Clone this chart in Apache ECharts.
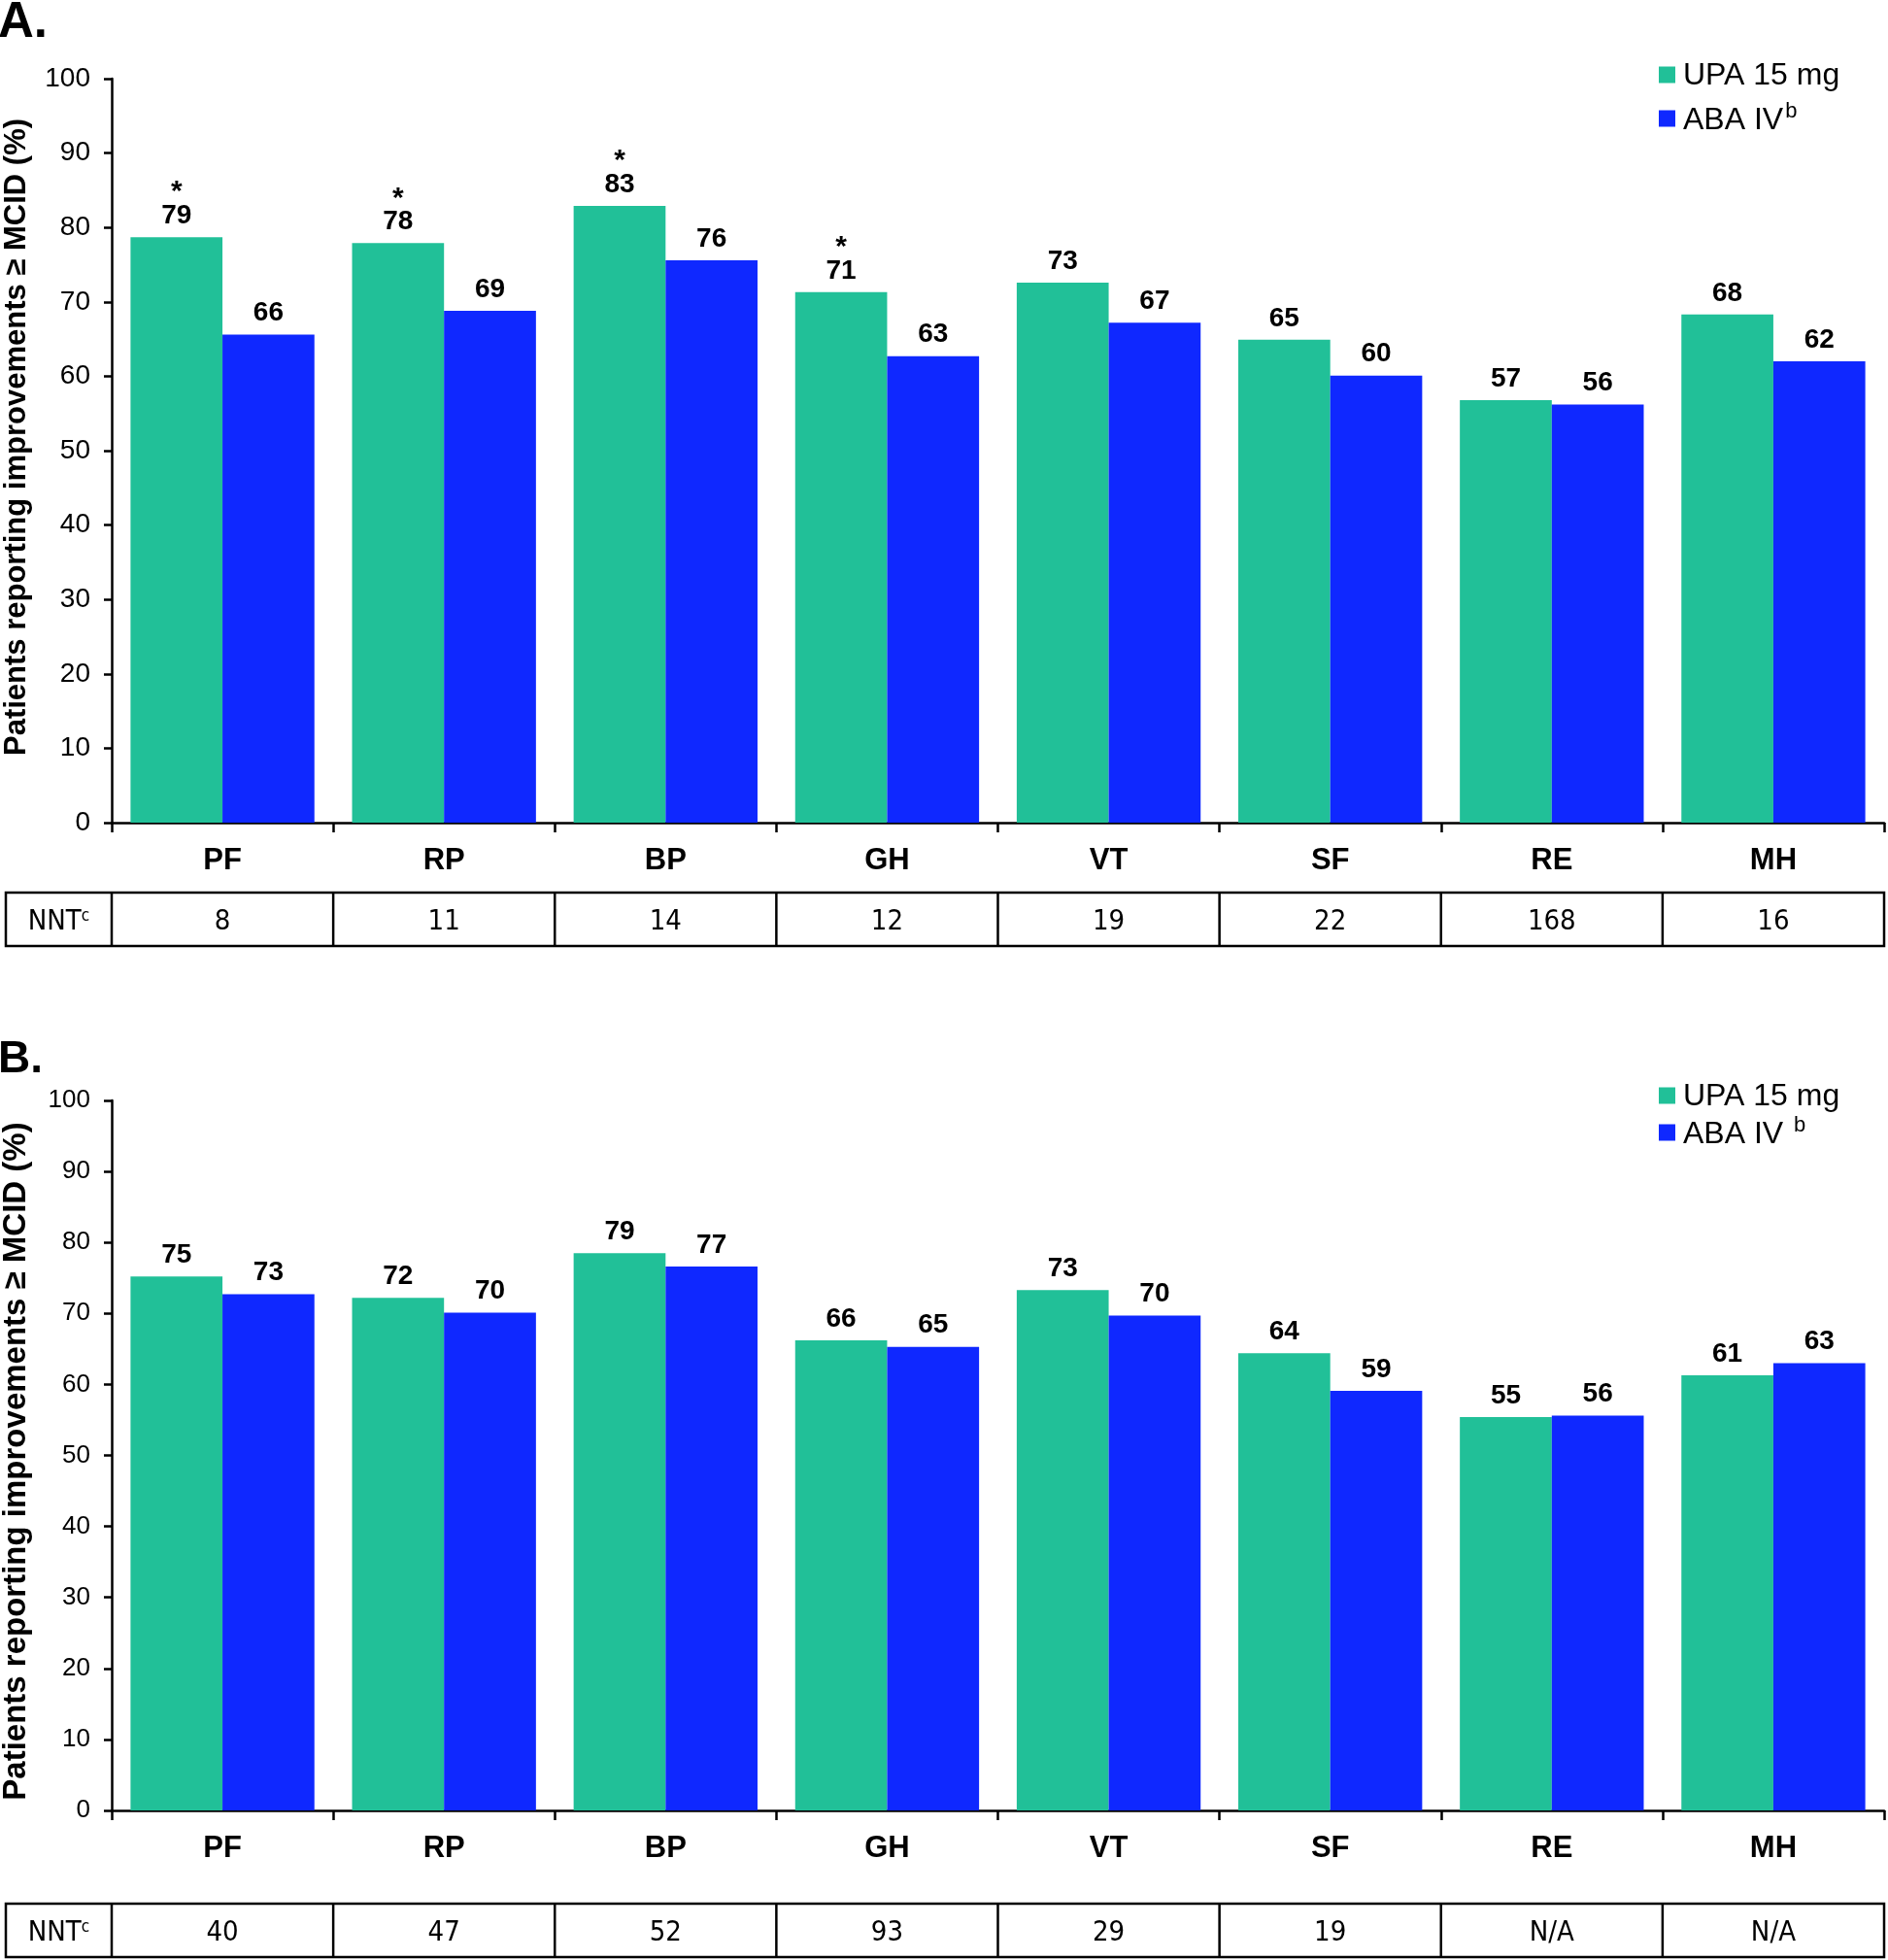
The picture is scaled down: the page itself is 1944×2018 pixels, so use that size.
<!DOCTYPE html>
<html>
<head>
<meta charset="utf-8">
<script src="https://cdn.jsdelivr.net/npm/echarts@6/dist/echarts.min.js"></script>
<style>
    html, body { margin: 0; padding: 0; background: #fff; }
    #main { width: 1944px; height: 2018px; }
</style>
</head>
<body>
<div id="main"></div>
<script>
    // SF-36 domains
    const categories = ['PF', 'RP', 'BP', 'GH', 'VT', 'SF', 'RE', 'MH'];
    const yTicks = [0, 10, 20, 30, 40, 50, 60, 70, 80, 90, 100];

    // panel A
    const upaA = [78.7, 77.9, 82.9, 71.3, 72.6, 64.9, 56.8, 68.3];
    const abaA = [65.6, 68.8, 75.6, 62.7, 67.2, 60.1, 56.2, 62.0];
    const starA = [true, true, true, true, false, false, false, false];
    const nntA = ['8', '11', '14', '12', '19', '22', '168', '16'];

    // panel B
    const upaB = [75.2, 72.2, 78.5, 66.2, 73.3, 64.4, 55.4, 61.3];
    const abaB = [72.7, 70.1, 76.6, 65.3, 69.7, 59.1, 55.6, 63.0];
    const starB = [false, false, false, false, false, false, false, false];
    const nntB = ['40', '47', '52', '93', '29', '19', 'N/A', 'N/A'];

    const GREEN = '#21C098';
    const BLUE = '#0F28FF';
    const FONT = '"Liberation Sans", Arial, sans-serif';
    const TABLE_FONT = '"DejaVu Sans Condensed", "Liberation Sans Narrow", sans-serif';

    const plotLeft = 115;
    const plotRight = 1940;

    let myChart = echarts.init(document.getElementById('main'));

    function barLabel(stars) {
        return {
            show: true,
            position: 'top',
            distance: 7,
            color: '#000',
            formatter: function (p) {
                let txt = '{v|' + Math.round(p.value) + '}';
                if (stars[p.dataIndex]) {
                    txt = '{s|*}\n' + txt;
                }
                return txt;
            },
            rich: {
                s: { fontSize: 30, fontWeight: 'bold', lineHeight: 18, fontFamily: FONT, color: '#000' },
                v: { fontSize: 28, fontWeight: 'bold', lineHeight: 30, fontFamily: FONT, color: '#000' }
            }
        };
    }

    function makeAxes(idx, tickFont, nameFont, namePad) {
        let x = {
            type: 'category',
            gridIndex: idx,
            data: categories,
            axisLine: { lineStyle: { color: '#000', width: 2.5 } },
            axisTick: { show: true, length: 10, lineStyle: { color: '#000', width: 2.5 } },
            axisLabel: { color: '#000', fontSize: 31, fontWeight: 'bold', fontFamily: FONT, margin: 24 }
        };
        let y = {
            type: 'value',
            gridIndex: idx,
            min: 0,
            max: 100,
            interval: 10,
            splitLine: { show: false },
            axisLine: { show: true, lineStyle: { color: '#000', width: 2.5 } },
            axisTick: { show: true, length: 8, lineStyle: { color: '#000', width: 2.5 } },
            axisLabel: {
                color: '#000', fontSize: tickFont, fontFamily: FONT, margin: 22,
                formatter: function (v) { return yTicks.indexOf(v) >= 0 ? String(v) : ''; }
            },
            name: 'Patients reporting improvements \u2265 MCID (%)',
            nameLocation: 'middle',
            nameGap: 82,
            nameTextStyle: { color: '#000', fontSize: nameFont, fontWeight: 'bold', fontFamily: FONT, padding: namePad }
        };
        return [x, y];
    }

    function makeLegend(top, gap, abaText) {
        return {
            orient: 'vertical',
            left: 1703,
            top: top,
            itemWidth: 17,
            itemHeight: 17,
            itemGap: gap,
            icon: 'rect',
            data: ['UPA 15 mg', 'ABA IV'],
            formatter: function (name) {
                return name === 'ABA IV' ? '{t|' + abaText + '}{sup|b}' : '{t|' + name + '}';
            },
            textStyle: {
                color: '#000',
                rich: {
                    t: { fontSize: 32, fontFamily: FONT, color: '#000', lineHeight: 34, padding: [0, 0, 0, 3], verticalAlign: 'bottom' },
                    sup: { fontSize: 22, fontFamily: FONT, color: '#000', padding: [0, 0, 14, 2], verticalAlign: 'bottom' }
                }
            }
        };
    }

    // NNT table below the axis, one cell per category
    function makeTable(top, height, nnt) {
        let els = [];
        let cellW = (plotRight - plotLeft) / categories.length;
        els.push({
            type: 'rect',
            shape: { x: 6, y: top, width: plotRight - 6, height: height },
            style: { fill: 'none', stroke: '#000', lineWidth: 2.5 }
        });
        for (let i = 0; i < categories.length; i++) {
            let x0 = plotLeft + i * cellW;
            els.push({
                type: 'line',
                shape: { x1: x0, y1: top, x2: x0, y2: top + height },
                style: { stroke: '#000', lineWidth: 2.5 }
            });
            els.push({
                type: 'text',
                x: x0 + cellW / 2,
                y: top + height / 2 + 3,
                style: {
                    text: nnt[i], fontSize: 29, fontFamily: TABLE_FONT, fill: '#000',
                    align: 'center', verticalAlign: 'middle'
                }
            });
        }
        els.push({
            type: 'text',
            x: (6 + plotLeft) / 2,
            y: top + height / 2 + 3,
            style: {
                text: '{n|NNT}{c|c}',
                align: 'center', verticalAlign: 'middle',
                rich: {
                    n: { fontSize: 29, fontFamily: TABLE_FONT, fill: '#000', verticalAlign: 'bottom' },
                    c: { fontSize: 17, fontFamily: TABLE_FONT, fill: '#000', padding: [0, 0, 12, 0], verticalAlign: 'bottom' }
                }
            }
        });
        return els;
    }

    let axesA = makeAxes(0, 28, 31, [0, 0, 0, 28]);
    let axesB = makeAxes(1, 26, 33, [0, 12, 0, 0]);

    let option = {
        animation: false,
        backgroundColor: '#fff',
        textStyle: { fontFamily: FONT },
        title: [
            { text: 'A.', left: -2, top: -2, padding: 0, textStyle: { fontSize: 51, fontWeight: 'bold', color: '#000', fontFamily: FONT } },
            { text: 'B.', left: -2, top: 1068, padding: 0, textStyle: { fontSize: 46, fontWeight: 'bold', color: '#000', fontFamily: FONT } }
        ],
        legend: [makeLegend(57, 10, 'ABA IV'), makeLegend(1108, 3, 'ABA IV ')],
        grid: [
            { left: plotLeft, right: 1944 - plotRight, top: 81, height: 766, outerBoundsMode: 'none' },
            { left: plotLeft, right: 1944 - plotRight, top: 1133, height: 731, outerBoundsMode: 'none' }
        ],
        xAxis: [axesA[0], axesB[0]],
        yAxis: [axesA[1], axesB[1]],
        series: [
            {
                name: 'UPA 15 mg', type: 'bar', xAxisIndex: 0, yAxisIndex: 0,
                data: upaA, itemStyle: { color: GREEN }, barGap: '0%', barCategoryGap: '17%',
                label: barLabel(starA)
            },
            {
                name: 'ABA IV', type: 'bar', xAxisIndex: 0, yAxisIndex: 0,
                data: abaA, itemStyle: { color: BLUE }, barGap: '0%', barCategoryGap: '17%',
                label: barLabel(starA.map(function () { return false; }))
            },
            {
                name: 'UPA 15 mg', type: 'bar', xAxisIndex: 1, yAxisIndex: 1,
                data: upaB, itemStyle: { color: GREEN }, barGap: '0%', barCategoryGap: '17%',
                label: barLabel(starB)
            },
            {
                name: 'ABA IV', type: 'bar', xAxisIndex: 1, yAxisIndex: 1,
                data: abaB, itemStyle: { color: BLUE }, barGap: '0%', barCategoryGap: '17%',
                label: barLabel(starB)
            }
        ],
        graphic: makeTable(919, 55, nntA).concat(makeTable(1960, 55, nntB))
    };

    myChart.setOption(option, true);
</script>
</body>
</html>
